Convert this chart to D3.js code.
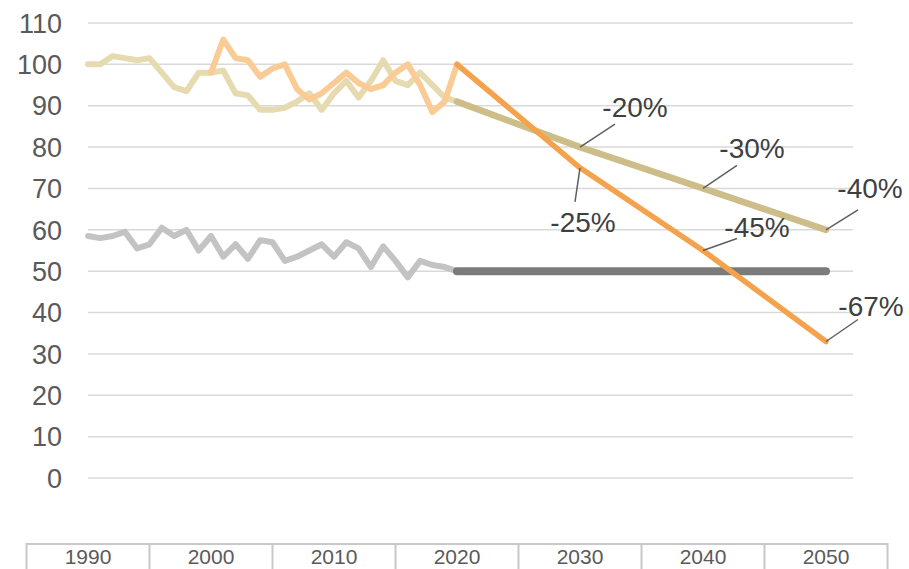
<!DOCTYPE html>
<html>
<head>
<meta charset="utf-8">
<script src="https://cdn.jsdelivr.net/npm/d3@7"></script>
<style>
  html, body { margin: 0; padding: 0; background: #ffffff; }
  svg { display: block; font-family: "Liberation Sans", Arial, sans-serif; }
</style>
</head>
<body>
<svg id="chart" width="909" height="569"></svg>
<script>
// ---------- DATA ----------
const histYears = d3.range(1990, 2021);
const tanHist = [100, 100, 102, 101.5, 101, 101.5, 98, 94.5, 93.5, 98, 98,
                 98.5, 93, 92.5, 89, 89, 89.5, 91, 93, 89, 93,
                 96, 92, 96, 101, 96, 95, 98, 95, 92, 91];
const orangeYears = d3.range(2000, 2021);
const orangeHist = [98, 106, 101.5, 101, 97, 99, 100, 94, 91.5, 93, 95.5,
                    98, 95.5, 94, 95, 98, 100, 95, 88.5, 91, 100];
const grayHist = [58.5, 58, 58.5, 59.5, 55.5, 56.5, 60.5, 58.5, 60, 55, 58.5,
                  53.5, 56.5, 53, 57.5, 57, 52.5, 53.5, 55, 56.5, 53.5,
                  57, 55.5, 51, 56, 52.5, 48.5, 52.5, 51.5, 51, 50];
const projYears = [2020, 2030, 2040, 2050];
const tanProj = [91, 80, 70, 60];
const orangeProj = [100, 75, 55, 33];
const grayProj = [50, 50, 50, 50];
const yTicks = [0, 10, 20, 30, 40, 50, 60, 70, 80, 90, 100, 110];
const xCategories = [1990, 2000, 2010, 2020, 2030, 2040, 2050];
const annotLabels = ["-20%", "-25%", "-30%", "-45%", "-40%", "-67%"];
const annotYears = [2030, 2030, 2040, 2040, 2050, 2050];
const annotSeries = ["tan", "orange", "tan", "orange", "tan", "orange"];

// ---------- LAYOUT ----------
const svg = d3.select("#chart");
const x = d3.scaleLinear().domain([1990, 2050]).range([88, 826]);
const y = d3.scaleLinear().domain([0, 110]).range([478, 23]);
const gridRight = 853;
const boxTop = 544;
const catHalf = (x(2000) - x(1990)) / 2;

// leader end offsets and text centre offsets (layout only)
const annotLayout = [
  {lx: 35, ly: -23, tx: 55, ty: -40},
  {lx: -5, ly: 34, tx: 3, ty: 54},
  {lx: 34, ly: -23, tx: 49, ty: -41},
  {lx: 34, ly: -12, tx: 54, ty: -24},
  {lx: 32, ly: -20, tx: 44, ty: -42},
  {lx: 32, ly: -22, tx: 45, ty: -36}
];

// gridlines
svg.append("g").selectAll("line").data(yTicks).join("line")
  .attr("x1", x(1990)).attr("x2", gridRight)
  .attr("y1", d => y(d)).attr("y2", d => y(d))
  .attr("stroke", "#d9d9d9").attr("stroke-width", 1.5);

// y labels
svg.append("g").selectAll("text").data(yTicks).join("text")
  .attr("x", 62).attr("y", d => y(d)).attr("dy", "0.36em")
  .attr("text-anchor", "end")
  .attr("font-size", 27).attr("fill", "#5a5a5a")
  .text(d => d);

const line = d3.line().x(d => x(d[0])).y(d => y(d[1]));
function draw(years, vals, color, width) {
  svg.append("path")
    .datum(years.map((yr, i) => [yr, vals[i]]))
    .attr("d", line)
    .attr("fill", "none").attr("stroke", color)
    .attr("stroke-width", width)
    .attr("stroke-linejoin", "round").attr("stroke-linecap", "round");
}

// historical
draw(histYears, grayHist, "#c3c3c3", 6);
draw(histYears, tanHist, "#e6dbb0", 6);
draw(orangeYears, orangeHist, "#fbcb95", 6);
// projections
draw(projYears, grayProj, "#7b7b7b", 8);
draw(projYears, tanProj, "#cdbd89", 6.5);
draw(projYears, orangeProj, "#f4a24c", 5.5);

// annotations
const projMap = {tan: tanProj, orange: orangeProj};
annotLabels.forEach((lab, i) => {
  const yr = annotYears[i];
  const v = projMap[annotSeries[i]][projYears.indexOf(yr)];
  const px = x(yr), py = y(v);
  const L = annotLayout[i];
  svg.append("line")
    .attr("x1", px).attr("y1", py)
    .attr("x2", px + L.lx).attr("y2", py + L.ly)
    .attr("stroke", "#5f5f5f").attr("stroke-width", 1.5);
  svg.append("text")
    .attr("x", px + L.tx).attr("y", py + L.ty).attr("dy", "0.36em")
    .attr("text-anchor", "middle")
    .attr("font-size", 28).attr("fill", "#3f3f3f")
    .text(lab);
});

// x-axis category boxes
const xg = svg.append("g");
xg.append("rect")
  .attr("x", x(1990) - catHalf).attr("y", boxTop)
  .attr("width", x(2050) - x(1990) + 2 * catHalf).attr("height", 40)
  .attr("fill", "none").attr("stroke", "#c8c8c8").attr("stroke-width", 2);
xg.selectAll("line.sep").data(xCategories.slice(1)).join("line")
  .attr("class", "sep")
  .attr("x1", d => x(d) - catHalf).attr("x2", d => x(d) - catHalf)
  .attr("y1", boxTop).attr("y2", 569)
  .attr("stroke", "#c8c8c8").attr("stroke-width", 2);
xg.selectAll("text").data(xCategories).join("text")
  .attr("x", d => x(d)).attr("y", 556).attr("dy", "0.36em")
  .attr("text-anchor", "middle")
  .attr("font-size", 21).attr("fill", "#5a5a5a")
  .text(d => d);
</script>
</body>
</html>
